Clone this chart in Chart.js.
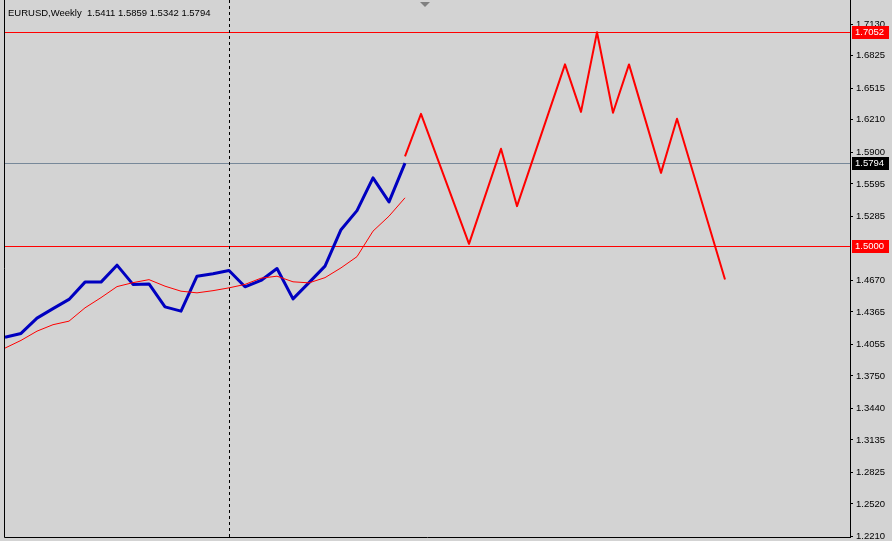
<!DOCTYPE html>
<html>
<head>
<meta charset="utf-8">
<script src="https://cdn.jsdelivr.net/npm/chart.js@4.4.1/dist/chart.umd.min.js"></script>
<style>
  html, body { margin: 0; padding: 0; background: #d3d3d3; }
</style>
</head>
<body>
<canvas id="myChart" width="892" height="541"></canvas>
<script>
// weekly bars, index 0 = first bar visible on the left
const priceBars = [0,1,2,3,4,5,6,7,8,9,10,11,12,13,14,15,16,17,18,19,20,21,22,23,24,25];
const closes = [1.4122,1.4158,1.4305,1.4396,1.4485,1.4651,1.4651,1.4814,1.4629,1.4634,
                1.4413,1.4372,1.4708,1.4732,1.4763,1.4606,1.4667,1.4782,1.4490,1.4646,
                1.4805,1.5155,1.5338,1.5653,1.5422,1.5794];
const maValues = [1.4017,1.4091,1.4180,1.4242,1.4276,1.4404,1.4502,1.4608,1.4646,1.4675,
                  1.4612,1.4564,1.4548,1.4569,1.4596,1.4629,1.4689,1.4708,1.4654,1.4644,
                  1.4694,1.4788,1.4896,1.5141,1.5285,1.5461];

// zigzag forecast (turning points only)
const forecastBars = [25,26,29,31,32,35,36,37,38,39,41,42,45];
const forecastValues = [1.5859,1.6268,1.5019,1.5932,1.5381,1.6743,1.6287,1.7052,1.6278,1.6743,1.5701,1.6220,1.4677];

const tickLabels = [1.7130,1.6825,1.6515,1.6210,1.5900,1.5595,1.5285,1.4670,1.4365,1.4055,1.3750,1.3440,1.3135,1.2825,1.2520,1.2210];
const redLevels = [1.7052, 1.5000];
const bidLevel = 1.5794;
const markerBar = 14;
const title = 'EURUSD,Weekly  1.5411 1.5859 1.5342 1.5794';

const FONT = '"Liberation Sans", Arial, sans-serif';

function pts(xs, ys) {
  return xs.map((x, i) => ({ x: x, y: ys[i] }));
}

const mtPlugin = {
  id: 'mt',
  beforeDraw(chart) {
    const c = chart.ctx;
    c.save();
    c.fillStyle = '#d3d3d3';
    c.fillRect(0, 0, chart.width, chart.height);
    c.restore();
  },
  beforeDatasetsDraw(chart) {
    const c = chart.ctx, a = chart.chartArea;
    const y = chart.scales.y, x = chart.scales.x;
    c.save();
    // horizontal levels, 1px bands
    const w = a.right - a.left;
    c.fillStyle = '#ff0000';
    redLevels.forEach(v => c.fillRect(a.left, Math.round(y.getPixelForValue(v)), w, 1));
    c.fillStyle = '#778899';
    c.fillRect(a.left, Math.round(y.getPixelForValue(bidLevel)), w, 1);
    // dashed period separator
    const vx = Math.round(x.getPixelForValue(markerBar));
    c.fillStyle = '#000';
    for (let py = 0; py < a.bottom; py += 6) c.fillRect(vx, py, 1, 3);
    c.restore();
  },
  afterDraw(chart) {
    const c = chart.ctx, a = chart.chartArea;
    const y = chart.scales.y, x = chart.scales.x;
    c.save();
    // frame
    c.strokeStyle = '#000';
    c.lineWidth = 1;
    c.beginPath();
    c.moveTo(a.left + 0.5, 0); c.lineTo(a.left + 0.5, a.bottom + 0.5);
    c.lineTo(a.right + 0.5, a.bottom + 0.5); c.lineTo(a.right + 0.5, 0);
    c.stroke();
    // shift marker
    const mx = x.getPixelForValue(26.25);
    c.fillStyle = '#808080';
    c.beginPath(); c.moveTo(mx - 5, 2); c.lineTo(mx + 5, 2); c.lineTo(mx, 7); c.closePath(); c.fill();
    // title
    c.fillStyle = '#000';
    c.font = '9.5px ' + FONT;
    c.textBaseline = 'middle';
    c.fillText(title, 8, 13);
    // price labels on the axis
    const boxes = [[redLevels[0], '#ff0000'], [redLevels[1], '#ff0000'], [bidLevel, '#000000']];
    boxes.forEach(([v, col]) => {
      const py = Math.round(y.getPixelForValue(v));
      c.fillStyle = col;
      c.fillRect(a.right + 2, py - 6, 37, 13);
      c.fillStyle = '#fff';
      c.fillText(v.toFixed(4), a.right + 5, py + 0.5);
    });
    c.restore();
  }
};

new Chart(document.getElementById('myChart'), {
  type: 'line',
  data: {
    datasets: [
      {
        data: pts(priceBars, maValues),
        borderColor: '#ff0000',
        borderWidth: 1,
        pointRadius: 0,
        tension: 0
      },
      {
        data: pts(priceBars, closes),
        borderColor: '#0000c0',
        borderWidth: 3,
        borderJoinStyle: 'round',
        pointRadius: 0,
        tension: 0
      },
      {
        data: pts(forecastBars, forecastValues),
        borderColor: '#ff0000',
        borderWidth: 2,
        borderJoinStyle: 'round',
        pointRadius: 0,
        tension: 0
      }
    ]
  },
  options: {
    responsive: false,
    animation: false,
    layout: { padding: { left: 4, top: 3, bottom: 4, right: 0 } },
    plugins: { legend: { display: false }, tooltip: { enabled: false } },
    scales: {
      x: {
        type: 'linear',
        display: false,
        min: -0.0625,
        max: 52.8125
      },
      y: {
        position: 'right',
        min: 1.2202,
        max: 1.7333,
        afterFit(scale) {
          scale.width = 42;
          scale.paddingTop = 0;
          scale.paddingBottom = 0;
        },
        afterBuildTicks(scale) { scale.ticks = tickLabels.map(v => ({ value: v })); },
        grid: { drawOnChartArea: false, color: '#000', tickLength: 3 },
        border: { color: '#000' },
        ticks: {
          color: '#000',
          padding: 3,
          font: { size: 9.5, family: FONT },
          callback: v => v.toFixed(4)
        }
      }
    }
  },
  plugins: [mtPlugin]
});
</script>
</body>
</html>
